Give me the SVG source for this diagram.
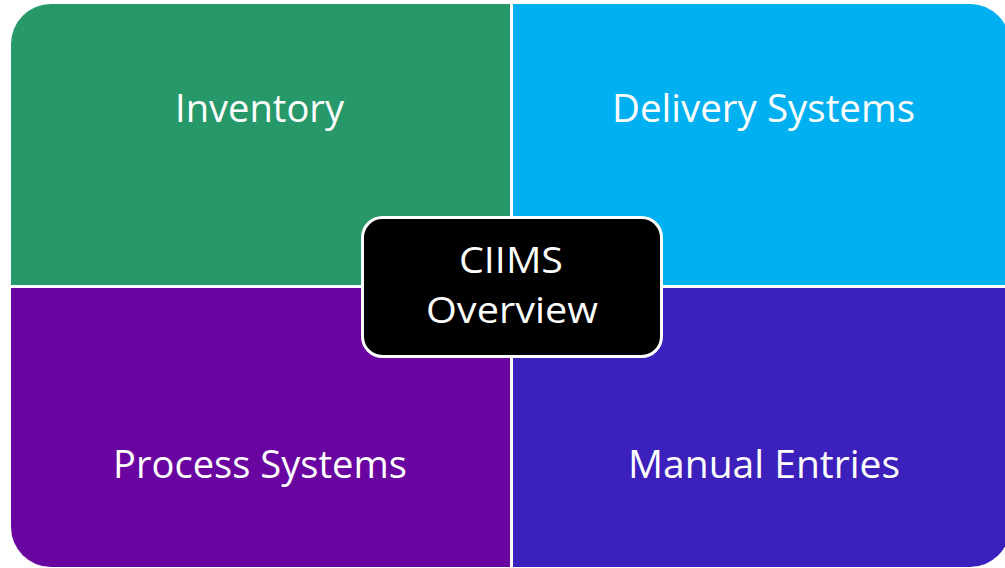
<svg xmlns="http://www.w3.org/2000/svg" width="1005" height="568" viewBox="0 0 1005 568">
<style>
.lbl{font-family:"Open Sans","Noto Sans","Liberation Sans",sans-serif;fill:#ffffff;text-anchor:middle;}
.q{font-size:38px;}
.c{font-size:36px;}
</style>
<rect width="1005" height="568" fill="#ffffff"/>
<g id="inventory">
<path d="M11,44 A40,40 0 0 1 51,4 H510 V285 H11 Z" fill="#26986a"/>
<text class="lbl q" x="259.5" y="122" textLength="169" lengthAdjust="spacingAndGlyphs">Inventory</text>
</g>
<g id="delivery-systems">
<path d="M513,4 H970 A40,40 0 0 1 1010,44 V285 H513 Z" fill="#00b0f0"/>
<text class="lbl q" x="763.5" y="122" textLength="303" lengthAdjust="spacingAndGlyphs">Delivery Systems</text>
</g>
<g id="process-systems">
<path d="M11,288 H510 V567 H51 A40,40 0 0 1 11,527 Z" fill="#6a04a0"/>
<text class="lbl q" x="260" y="478" textLength="294" lengthAdjust="spacingAndGlyphs">Process Systems</text>
</g>
<g id="manual-entries">
<path d="M513,288 H1010 V527 A40,40 0 0 1 970,567 H513 Z" fill="#3c20bc"/>
<text class="lbl q" x="764" y="478" textLength="272" lengthAdjust="spacingAndGlyphs">Manual Entries</text>
</g>
<g id="connectors"></g>
<g id="ciims-overview">
<rect x="362.5" y="217.5" width="299" height="139" rx="20" ry="20" fill="#000000" stroke="#ffffff" stroke-width="3"/>
<text class="lbl c" x="511" y="273" textLength="104" lengthAdjust="spacingAndGlyphs">CIIMS</text>
<text class="lbl c" x="512" y="323" textLength="172" lengthAdjust="spacingAndGlyphs">Overview</text>
</g>
</svg>
